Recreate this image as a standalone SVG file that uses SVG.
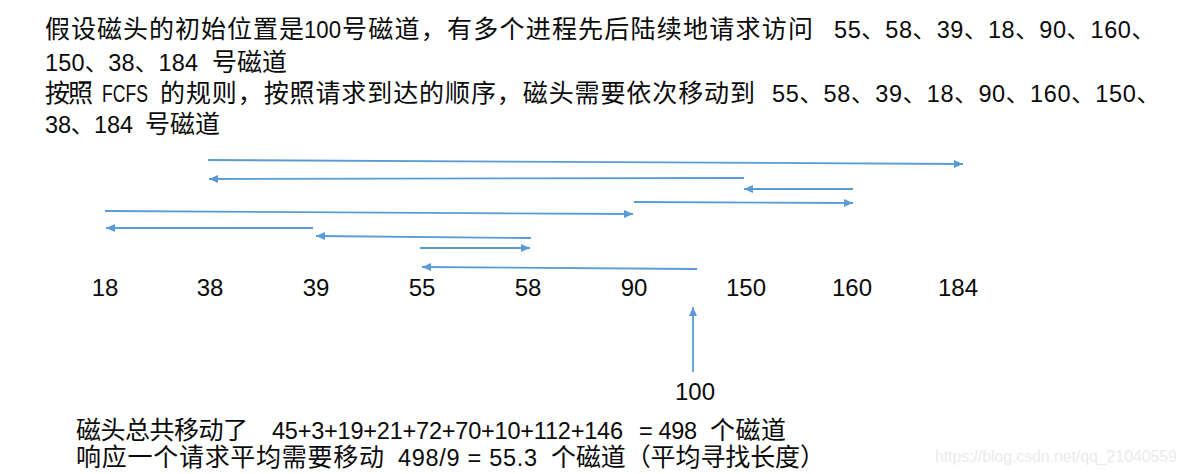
<svg xmlns="http://www.w3.org/2000/svg" width="1187" height="474" viewBox="0 0 1187 474">
<style>
.c{font-family:"Liberation Sans","Noto Sans CJK SC",sans-serif;font-size:25px;fill:#0a0a0a}
.n{font-family:"Liberation Sans","Noto Sans CJK SC",sans-serif;font-size:23.5px;fill:#0a0a0a}
.lbl{font-family:"Liberation Sans",sans-serif;font-size:24px;fill:#0a0a0a;text-anchor:middle}
.arr{stroke:#5b9bd5;stroke-width:1.8;fill:none;marker-end:url(#ah)}
.wm{font-family:"Liberation Sans",sans-serif;font-size:16px;fill:#ebebeb}
</style>
<defs>
<marker id="ah" markerUnits="userSpaceOnUse" markerWidth="10" markerHeight="8" refX="9" refY="4" orient="auto">
<path d="M0,0 L9,4 L0,8 z" fill="#5b9bd5"/>
</marker>
</defs>
<rect width="1187" height="474" fill="#ffffff"/>
<g id="intro">
<text class="c" x="45" y="38" textLength="259" lengthAdjust="spacing">假设磁头的初始位置是</text>
<text class="n" x="304" y="38" textLength="37" lengthAdjust="spacingAndGlyphs">100</text>
<text class="c" x="342" y="38" textLength="471" lengthAdjust="spacing">号磁道，有多个进程先后陆续地请求访问</text>
<text class="n" x="834" y="38" textLength="321" lengthAdjust="spacing">55、58、39、18、90、160、</text>
<text class="n" x="45" y="70.5" textLength="153" lengthAdjust="spacing">150、38、184</text>
<text class="c" x="212" y="70.5" textLength="75" lengthAdjust="spacing">号磁道</text>
<text class="c" x="45" y="101.5" textLength="48" lengthAdjust="spacing">按照</text>
<text class="n" x="102" y="101.5" textLength="46" lengthAdjust="spacingAndGlyphs">FCFS</text>
<text class="c" x="160" y="101.5" textLength="595" lengthAdjust="spacing">的规则，按照请求到达的顺序，磁头需要依次移动到</text>
<text class="n" x="772" y="101.5" textLength="388" lengthAdjust="spacing">55、58、39、18、90、160、150、</text>
<text class="n" x="45" y="133" textLength="88" lengthAdjust="spacing">38、184</text>
<text class="c" x="145" y="133" textLength="75" lengthAdjust="spacing">号磁道</text>
</g>
<g id="connectors">
<line class="arr" x1="208" y1="160" x2="963" y2="164"/>
<line class="arr" x1="744" y1="178" x2="209" y2="179"/>
<line class="arr" x1="853" y1="189" x2="744" y2="189"/>
<line class="arr" x1="634" y1="202" x2="853" y2="203"/>
<line class="arr" x1="105" y1="211" x2="633" y2="214"/>
<line class="arr" x1="313" y1="228" x2="106" y2="228"/>
<line class="arr" x1="531" y1="238" x2="316" y2="236"/>
<line class="arr" x1="420" y1="248" x2="530" y2="248"/>
<line class="arr" x1="697" y1="269" x2="422" y2="267"/>
<line class="arr" x1="693" y1="372" x2="693" y2="307"/>
</g>
<g id="track-18"><text class="lbl" x="105" y="296">18</text></g>
<g id="track-38"><text class="lbl" x="210" y="296">38</text></g>
<g id="track-39"><text class="lbl" x="316" y="296">39</text></g>
<g id="track-55"><text class="lbl" x="422" y="296">55</text></g>
<g id="track-58"><text class="lbl" x="528" y="296">58</text></g>
<g id="track-90"><text class="lbl" x="634" y="296">90</text></g>
<g id="track-150"><text class="lbl" x="746" y="296">150</text></g>
<g id="track-160"><text class="lbl" x="852" y="296">160</text></g>
<g id="track-184"><text class="lbl" x="958" y="296">184</text></g>
<g id="start-100"><text class="lbl" x="695" y="400">100</text></g>
<g id="summary">
<text class="c" x="76" y="439" textLength="172" lengthAdjust="spacing">磁头总共移动了</text>
<text class="n" x="272" y="439" textLength="351" lengthAdjust="spacing">45+3+19+21+72+70+10+112+146</text>
<text class="n" x="639" y="439" textLength="58" lengthAdjust="spacing">= 498</text>
<text class="c" x="710" y="439" textLength="76" lengthAdjust="spacing">个磁道</text>
<text class="c" x="76" y="466" textLength="308" lengthAdjust="spacing">响应一个请求平均需要移动</text>
<text class="n" x="398" y="466" textLength="139" lengthAdjust="spacing">498/9 = 55.3</text>
<text class="c" x="551" y="466" textLength="274" lengthAdjust="spacing">个磁道（平均寻找长度）</text>
</g>
<text class="wm" x="935" y="462" textLength="242" lengthAdjust="spacing">https://blog.csdn.net/qq_21040559</text>
</svg>
